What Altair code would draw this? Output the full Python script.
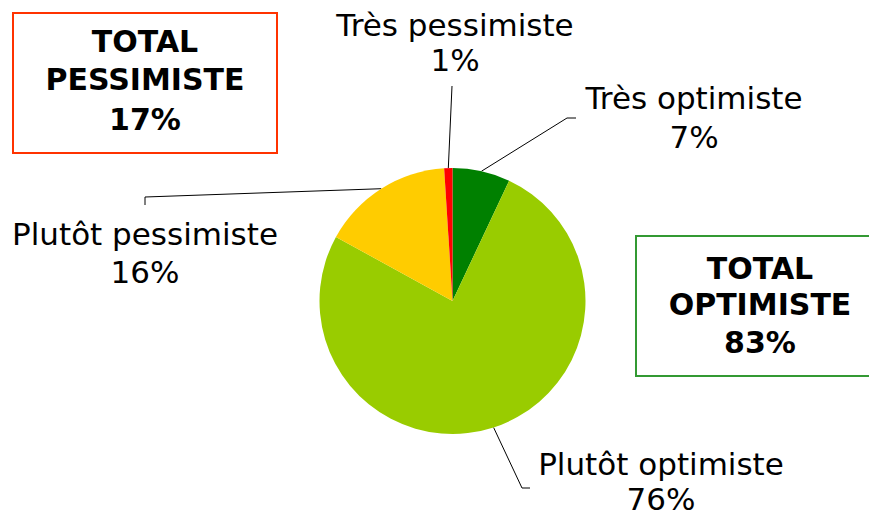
import math
import altair as alt
import pandas as pd

# ---- data ----
categories = ["Très optimiste", "Plutôt optimiste", "Plutôt pessimiste", "Très pessimiste"]
values = [7, 76, 16, 1]
colors = ["#008000", "#99CC00", "#FFCC00", "#FF0000"]
groups = ["opt", "opt", "pess", "pess"]

# ---- layout (image pixel coordinates) ----
W, H = 861, 509
CX, CY, R = 452.5, 301.0, 133.0
label_pos = {  # center x, line1 y, line2 y
    "Très optimiste": (694, 100, 139),
    "Plutôt optimiste": (661, 466, 501),
    "Plutôt pessimiste": (145, 236, 274),
    "Très pessimiste": (455, 27, 62),
}
leader_pts = {  # elbow, end
    "Très optimiste": [(567, 118), (576, 118)],
    "Plutôt optimiste": [(522, 488), (530, 488)],
    "Plutôt pessimiste": [(145, 197), (145, 205)],
    "Très pessimiste": [(452, 86), (452, 86)],
}
boxes = {
    "pess": dict(x=13, x2=277, y=13, y2=153, stroke="#FF3300", cx=145, ys=(43, 81, 121)),
    "opt": dict(x=636, x2=900, y=236, y2=376, stroke="#339933", cx=760, ys=(270, 306, 344)),
}

FONT = "DejaVu Sans"

xs = alt.Scale(domain=[8, 8 + W], range=[0, W])
ys = alt.Scale(domain=[8, 8 + H], range=[0, H])

pie_df = pd.DataFrame({"cat": categories, "val": values, "order": range(len(values))})
pie = alt.Chart(pie_df).mark_arc(radius=R, stroke=None).encode(
    theta=alt.Theta("val:Q", stack=True),
    order=alt.Order("order:Q"),
    color=alt.Color("cat:N", scale=alt.Scale(domain=categories, range=colors), legend=None),
    x=alt.value(CX - 8),
    y=alt.value(CY - 8),
)

# leader lines: start at the slice's mid-angle on the rim
total = sum(values)
rows = []
cum = 0
for c, v in zip(categories, values):
    mid = (cum + v / 2) / total * 2 * math.pi
    cum += v
    sx, sy = CX + R * math.sin(mid), CY - R * math.cos(mid)
    pts = [(sx, sy)] + leader_pts[c]
    for i, (px, py) in enumerate(pts):
        rows.append({"cat": c, "i": i, "x": px, "y": py})
lead_df = pd.DataFrame(rows)
leaders = alt.Chart(lead_df).mark_line(color="#000000", strokeWidth=1).encode(
    x=alt.X("x:Q", scale=xs, axis=None),
    y=alt.Y("y:Q", scale=ys, axis=None),
    detail="cat:N",
    order="i:Q",
)

lab_rows = []
for c, v in zip(categories, values):
    lx, y1, y2 = label_pos[c]
    lab_rows.append({"t": c, "x": lx, "y": y1})
    lab_rows.append({"t": f"{v}%", "x": lx, "y": y2})
labels = alt.Chart(pd.DataFrame(lab_rows)).mark_text(
    font=FONT, fontSize=31, color="#000000", baseline="middle", align="center"
).encode(
    x=alt.X("x:Q", scale=xs, axis=None),
    y=alt.Y("y:Q", scale=ys, axis=None),
    text="t:N",
)

box_rows, btxt = [], []
for g, name in [("pess", "PESSIMISTE"), ("opt", "OPTIMISTE")]:
    b = boxes[g]
    tot = sum(v for v, gg in zip(values, groups) if gg == g)
    box_rows.append({"g": g, "x": b["x"], "x2": b["x2"], "y": b["y"], "y2": b["y2"], "s": b["stroke"]})
    for t, yy in zip(["TOTAL", name, f"{tot}%"], b["ys"]):
        btxt.append({"t": t, "x": b["cx"], "y": yy})

rects = alt.Chart(pd.DataFrame(box_rows)).mark_rect(fill="white", strokeWidth=2).encode(
    x=alt.X("x:Q", scale=xs, axis=None),
    x2="x2:Q",
    y=alt.Y("y:Q", scale=ys, axis=None),
    y2="y2:Q",
    stroke=alt.Stroke("s:N", scale=None, legend=None),
)
box_text = alt.Chart(pd.DataFrame(btxt)).mark_text(
    font=FONT, fontSize=30, fontWeight="bold", color="#000000", baseline="middle", align="center"
).encode(
    x=alt.X("x:Q", scale=xs, axis=None),
    y=alt.Y("y:Q", scale=ys, axis=None),
    text="t:N",
)

chart = alt.layer(rects, box_text, leaders, pie, labels).properties(
    width=W, height=H, padding=0, autosize=alt.AutoSizeParams(type="none")
).configure_view(stroke=None).resolve_scale(color="independent")

chart.save("out.html", embed_options={"renderer": "svg", "actions": False})
